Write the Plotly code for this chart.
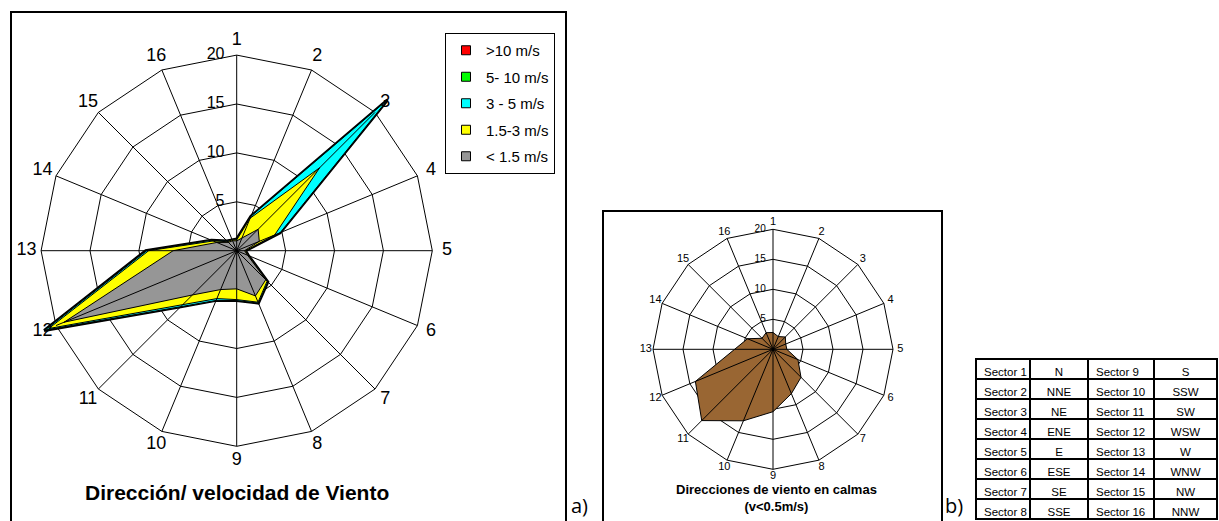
import plotly.graph_objects as go

W, H = 1219, 521
sectors = [str(i) for i in range(1, 17)]

# a) Cumulative frequency (%) by wind speed class, sectors 1..16
gt10 = [1.2, 3.8, 21.8, 4.8, 0.9, 1.3, 4.5, 5.8, 5.1, 5.5, 8.1, 21.3, 9.3, 2.8, 1.4, 1.2]
v5_10 = [1.2, 3.8, 21.8, 4.8, 0.9, 1.3, 4.5, 5.8, 5.1, 5.5, 8.1, 21.3, 9.3, 2.8, 1.4, 1.2]
v3_5 = [1.2, 3.8, 21.8, 4.8, 0.9, 1.3, 4.5, 5.8, 5.1, 5.5, 8.1, 21.2, 9.2, 2.8, 1.4, 1.2]
v15_3 = [1.1, 3.6, 12.0, 4.2, 0.9, 1.3, 4.4, 5.7, 5.0, 5.3, 7.8, 20.8, 9.0, 2.6, 1.3, 1.2]
lt15 = [1.0, 1.4, 3.1, 2.5, 0.8, 1.2, 4.2, 5.0, 3.9, 4.3, 6.4, 19.1, 6.5, 2.2, 1.2, 1.1]

series_names = [">10 m/s", "5- 10 m/s", "3 - 5 m/s", "1.5-3 m/s", "< 1.5 m/s"]
series_vals = [gt10, v5_10, v3_5, v15_3, lt15]
series_colors = ["#FF0000", "#00FF00", "#00FFFF", "#FFFF00", "#969696"]
series_lw = [3, 1.5, 1, 1, 1]

# b) Calm directions (v<0.5 m/s)
calm = [2.8, 2.3, 2.9, 2.3, 2.3, 4.5, 6.6, 8.0, 10.4, 12.9, 16.8, 14.0, 6.4, 4.6, 2.6, 3.0]

ring_ticks = [0, 5, 10, 15, 20]

# c) Sector table
tab_sec_a = ["Sector\u00a0%d" % i for i in range(1, 9)]
tab_dir_a = ["N", "NNE", "NE", "ENE", "E", "ESE", "SE", "SSE"]
tab_sec_b = ["Sector\u00a0%d" % i for i in range(9, 17)]
tab_dir_b = ["S", "SSW", "SW", "WSW", "W", "WNW", "NW", "NNW"]

FONT = "Liberation Sans, Arial, sans-serif"
RMAX = 22.3


def closed(vals):
    return list(vals) + [vals[0]], sectors + [sectors[0]]


def spokes(sub, width):
    r, th = [], []
    for s in sectors:
        r += [0, ring_ticks[-1], None]
        th += [s, s, None]
    return go.Scatterpolar(r=r, theta=th, mode="lines", subplot=sub, showlegend=False,
                           line=dict(color="black", width=width), connectgaps=False,
                           hoverinfo="skip")


def labels(sub, size, rsize, rlab, offs):
    t1 = go.Scatterpolar(r=[rlab] * len(sectors), theta=sectors, mode="text", text=sectors,
                         subplot=sub, showlegend=False, hoverinfo="skip",
                         textfont=dict(family=FONT, size=size, color="black"))
    t2 = go.Scatterpolar(r=ring_ticks, theta=[sectors[0]] * len(ring_ticks), mode="markers+text",
                         text=[str(v) for v in ring_ticks], textposition="middle left",
                         marker=dict(size=offs, opacity=0), subplot=sub, showlegend=False,
                         hoverinfo="skip",
                         textfont=dict(family=FONT, size=rsize, color="black"))
    return [t1, t2]


fig = go.Figure()

# chart a fills
for name, vals, col, lw in zip(series_names, series_vals, series_colors, series_lw):
    r, th = closed(vals)
    fig.add_trace(go.Scatterpolar(r=r, theta=th, mode="lines", fill="toself", fillcolor=col,
                                  line=dict(color="black", width=lw), subplot="polar",
                                  showlegend=False, name=name))
fig.add_trace(spokes("polar", 1))
fig.add_trace(go.Scatterpolar(r=[0], theta=[sectors[0]], mode="markers", subplot="polar",
                              marker=dict(color="black", size=7), showlegend=False, hoverinfo="skip"))
for t in labels("polar", 18, 16, 21.5, 18):
    fig.add_trace(t)

# legend entries
for i, (name, col) in enumerate(zip(series_names, series_colors)):
    fig.add_trace(go.Scatterpolar(r=[None], theta=[None], mode="markers", name=name,
                                  subplot="polar", legendgroup="g%d" % i,
                                  marker=dict(symbol="square", size=9, color=col,
                                              line=dict(color="black", width=1))))

# chart b
r, th = closed(calm)
fig.add_trace(go.Scatterpolar(r=r, theta=th, mode="lines", fill="toself", fillcolor="#996633",
                              line=dict(color="black", width=1), subplot="polar2",
                              showlegend=False, name="calmas"))
fig.add_trace(spokes("polar2", 1))
fig.add_trace(go.Scatterpolar(r=[0], theta=[sectors[0]], mode="markers", subplot="polar2",
                              marker=dict(color="black", size=6), showlegend=False, hoverinfo="skip"))
for t in labels("polar2", 11, 10, 21.2, 10):
    fig.add_trace(t)

# table
fig.add_trace(go.Table(
    domain=dict(x=[976 / W, 1217 / W], y=[0, 1 - 359 / H]),
    columnwidth=[54, 58, 66, 63],
    header=dict(values=[tab_sec_a[0], tab_dir_a[0], tab_sec_b[0], tab_dir_b[0]],
                fill_color="white", line=dict(color="black", width=2),
                align=["left", "center", "left", "center"], height=20,
                font=dict(family=FONT, size=11.5, color="black")),
    cells=dict(values=[tab_sec_a[1:], tab_dir_a[1:], tab_sec_b[1:], tab_dir_b[1:]],
               fill_color="white", line=dict(color="black", width=2),
               align=["left", "center", "left", "center"], height=20,
               font=dict(family=FONT, size=11.5, color="black"))))


def polar_layout(cx, cy, rpx):
    half = RMAX * rpx
    return dict(
        domain=dict(x=[(cx - half) / W, (cx + half) / W], y=[1 - (cy + half) / H, 1 - (cy - half) / H]),
        bgcolor="white", gridshape="linear",
        radialaxis=dict(range=[0, RMAX], tickvals=ring_ticks[1:], showticklabels=False, ticks="",
                        showline=False, gridcolor="black", gridwidth=1),
        angularaxis=dict(type="category", categoryarray=sectors, rotation=90, direction="clockwise",
                         showticklabels=False, ticks="", showline=False, showgrid=False))


fig.update_layout(
    width=W, height=H, margin=dict(l=0, r=0, t=0, b=0),
    paper_bgcolor="white", plot_bgcolor="white",
    font=dict(family=FONT, color="black"),
    polar=polar_layout(236.7, 250.7, 9.78),
    polar2=polar_layout(773.0, 349.3, 6.0),
    showlegend=True,
    legend=dict(x=445 / W, y=1 - 33 / H, xanchor="left", yanchor="top",
                bgcolor="white", bordercolor="black", borderwidth=1,
                font=dict(family=FONT, size=15, color="black"),
                traceorder="grouped", tracegroupgap=4, itemwidth=30),
    shapes=[
        dict(type="rect", xref="paper", yref="paper", x0=11 / W, x1=566 / W, y0=-0.05, y1=1 - 12 / H,
             line=dict(color="black", width=2)),
        dict(type="rect", xref="paper", yref="paper", x0=603 / W, x1=942 / W, y0=-0.05, y1=1 - 211 / H,
             line=dict(color="black", width=2)),
    ],
    annotations=[
        dict(text="<b>Dirección/ velocidad de Viento</b>", x=236.7 / W, y=1 - 492 / H, xref="paper",
             yref="paper", showarrow=False, xanchor="center", yanchor="middle",
             font=dict(family=FONT, size=21, color="black")),
        dict(text="<b>Direcciones de viento en calmas<br>(v<0.5m/s)</b>", x=776.7 / W, y=1 - 498 / H,
             xref="paper", yref="paper", showarrow=False, xanchor="center", yanchor="middle",
             font=dict(family=FONT, size=13, color="black")),
        dict(text="a)", x=569 / W, y=0.0, xref="paper", yref="paper", showarrow=False,
             xanchor="left", yanchor="bottom", font=dict(family="Open Sans, sans-serif", size=20, color="black")),
        dict(text="b)", x=943 / W, y=0.0, xref="paper", yref="paper", showarrow=False,
             xanchor="left", yanchor="bottom", font=dict(family="Open Sans, sans-serif", size=20, color="black")),
    ],
)

fig.write_html("out.html", config={"displayModeBar": False},
               post_script="document.body.style.margin='0px';")
